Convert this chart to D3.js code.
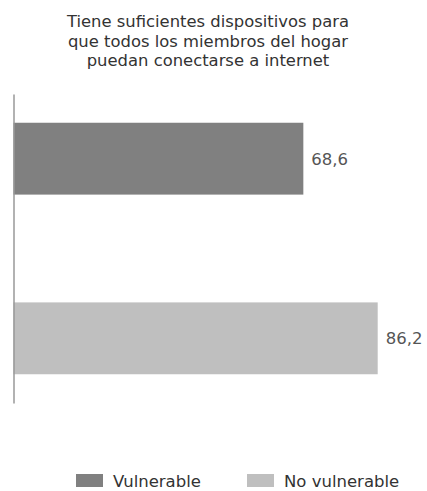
<!DOCTYPE html>
<html>
<head>
<meta charset="utf-8">
<script src="https://cdn.jsdelivr.net/npm/d3@7"></script>
<style>
  html, body { margin: 0; padding: 0; background: #fff; }
  svg { display: block; }
  text { font-family: "DejaVu Sans", Verdana, sans-serif; }
</style>
</head>
<body>
<svg id="chart" width="427" height="491"></svg>
<script>
const titleLines = ["Tiene suficientes dispositivos para", "que todos los miembros del hogar", "puedan conectarse a internet"];
const categories = ["Vulnerable", "No vulnerable"];
const values = [68.6, 86.2];
const labels = ["68,6", "86,2"];
const colors = ["#808080", "#bfbfbf"];

const svg = d3.select("#chart");
const x = d3.scaleLinear().domain([0, 100]).range([13.5, 436]);
const y = d3.scaleBand().domain(categories).range([94, 403]).paddingInner(0.6).paddingOuter(0.16);
const color = d3.scaleOrdinal().domain(categories).range(colors);

// title
svg.append("g").selectAll("text").data(titleLines).join("text")
  .attr("x", 208).attr("y", (d, i) => 27 + i * 19.5)
  .attr("text-anchor", "middle")
  .attr("font-size", 16.4)
  .attr("fill", "#333")
  .text(d => d);

// bars
svg.append("g").selectAll("rect").data(categories).join("rect")
  .attr("x", x(0))
  .attr("y", d => y(d))
  .attr("width", (d, i) => x(values[i]) - x(0))
  .attr("height", y.bandwidth())
  .attr("fill", d => color(d));

// value labels
svg.append("g").selectAll("text").data(categories).join("text")
  .attr("x", (d, i) => x(values[i]) + 8)
  .attr("y", d => y(d) + y.bandwidth() / 2)
  .attr("dy", "0.36em")
  .attr("font-size", 16.5)
  .attr("fill", "#555")
  .text((d, i) => labels[i]);

// axis line
const axis = d3.axisLeft(y).tickSize(0).tickFormat("");
svg.append("g").attr("transform", `translate(${x(0)},0)`).call(axis)
  .call(g => g.select(".domain").attr("stroke", "#999").attr("stroke-width", 1.5));

// legend
const legendX = [76, 247];
const leg = svg.append("g").selectAll("g").data(categories).join("g")
  .attr("transform", (d, i) => `translate(${legendX[i]},474)`);
leg.append("rect").attr("width", 27).attr("height", 13).attr("fill", d => color(d));
leg.append("text").attr("x", 37).attr("y", 13)
  .attr("font-size", 16.5).attr("fill", "#333").text(d => d);
</script>
</body>
</html>
